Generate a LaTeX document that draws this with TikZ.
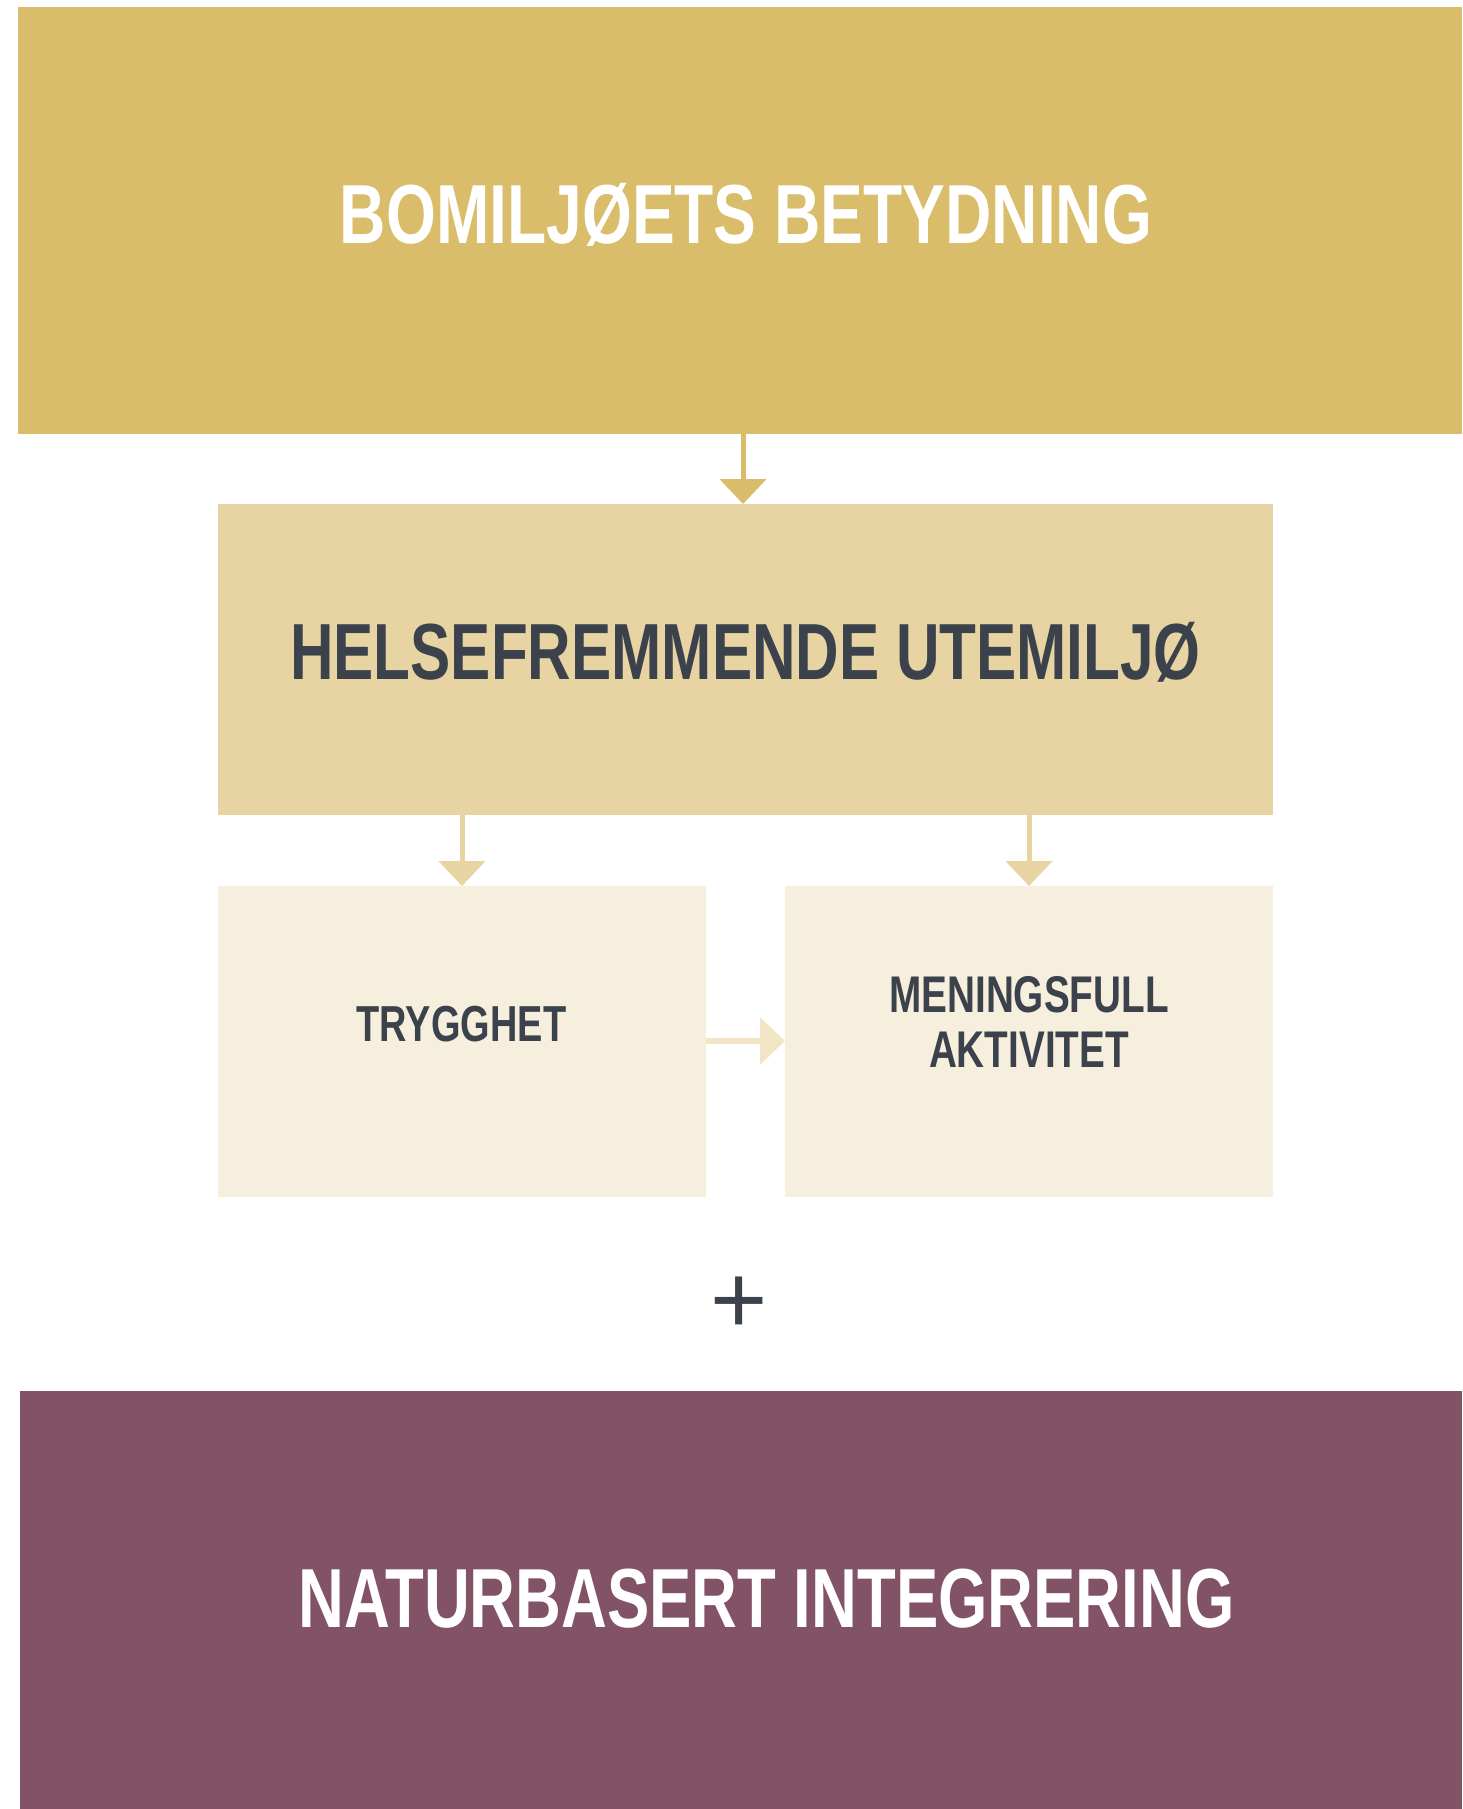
\documentclass[tikz,border=0pt]{standalone}
\usepackage{fontspec}
\usetikzlibrary{arrows.meta}
\newfontfamily\condfont[FakeStretch=0.75]{Liberation Sans Bold}
\newfontfamily\condbigfont[FakeStretch=0.765]{Liberation Sans Bold}
\newfontfamily\condmidfont[FakeStretch=0.757]{Liberation Sans Bold}
\newfontfamily\plusfont{Liberation Sans}
\definecolor{goldA}{HTML}{D9BD6A}
\definecolor{goldB}{HTML}{E8D4A2}
\definecolor{goldC}{HTML}{F7EFDD}
\definecolor{goldArrow}{HTML}{F2E5C6}
\definecolor{plum}{HTML}{825267}
\definecolor{darktext}{HTML}{3B424C}
\tikzset{
  panel/.style={rectangle, inner sep=0pt, outer sep=0pt, draw=none},
  bigtitle/.style={anchor=base, inner sep=0pt, font=\condbigfont\fontsize{41.9}{48}\selectfont},
  midtitle/.style={anchor=base, inner sep=0pt, font=\condmidfont\fontsize{39.8}{46}\selectfont},
  smalltitle/.style={anchor=base, inner sep=0pt, font=\condfont\fontsize{25.8}{27.5}\selectfont, align=center, text=darktext},
  flowarrow/.style={line width=2.5pt, -{Triangle[length=12.5pt,width=23pt]}, shorten >=0pt}
}
\begin{document}
\begin{tikzpicture}[x=0.5pt,y=-0.5pt]
\path[use as bounding box, fill=white] (0,0) rectangle (1462,1809);
% boxes
\node[panel, fill=goldA, minimum width=722pt, minimum height=213.5pt, anchor=north west] (top) at (18,7) {};
\node[panel, fill=goldB, minimum width=527.5pt, minimum height=155.5pt, anchor=north west] (mid) at (218,504) {};
\node[panel, fill=goldC, minimum width=244pt, minimum height=155.5pt, anchor=north west] (left) at (218,886) {};
\node[panel, fill=goldC, minimum width=244pt, minimum height=155.5pt, anchor=north west] (right) at (785,886) {};
\node[panel, fill=plum, minimum width=721pt, minimum height=209pt, anchor=north west] (bottom) at (20,1391) {};
% texts
\node[bigtitle, text=white] (t1) at (746,243) {BOMILJØETS BETYDNING};
\node[midtitle, text=darktext] (t2) at (745.5,679) {HELSEFREMMENDE UTEMILJØ};
\node[smalltitle, font=\condfont\fontsize{25.3}{27.5}\selectfont] (t3) at (461.5,1041) {TRYGGHET};
\node[smalltitle, anchor=base] (t4) at (1029,1012) {MENINGSFULL};
\node[smalltitle, anchor=base] (t5) at (1029,1067) {AKTIVITET};
\node[bigtitle, font=\condmidfont\fontsize{41.9}{48}\selectfont, text=white] (t6) at (766.5,1627) {NATURBASERT INTEGRERING};
\node[anchor=base, inner sep=0pt, text=darktext, font=\plusfont\fontsize{49}{50}\selectfont] (plus) at (739,1333) {+};
% arrows
\coordinate (a1s) at (top.south -| 743,0);
\coordinate (a1e) at (mid.north -| 743,0);
\draw[flowarrow, draw=goldA, fill=goldA] (a1s) -- (a1e);
\coordinate (a2s) at (mid.south -| 462,0);
\coordinate (a2e) at (left.north -| 462,0);
\draw[flowarrow, draw=goldB, fill=goldB] (a2s) -- (a2e);
\coordinate (a3s) at (mid.south -| 1029,0);
\coordinate (a3e) at (right.north -| 1029,0);
\draw[flowarrow, draw=goldB, fill=goldB] (a3s) -- (a3e);
\coordinate (a4s) at (left.east |- 0,1041);
\coordinate (a4e) at (right.west |- 0,1041);
\draw[flowarrow, line width=3pt, draw=goldArrow, fill=goldArrow] (a4s) -- (a4e);
\end{tikzpicture}
\end{document}
